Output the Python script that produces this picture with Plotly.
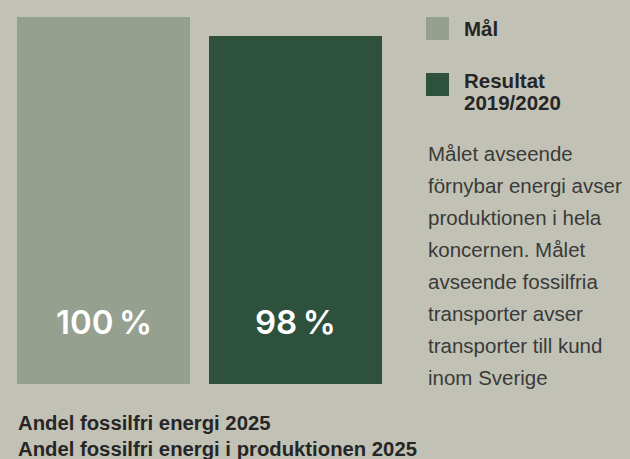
import plotly.graph_objects as go

W, H = 630, 459

categories = ["Mål", "Resultat 2019/2020"]
values = [100, 98]
legend_labels = [["Mål"], ["Resultat", "2019/2020"]]
description_lines = [
    "Målet avseende",
    "förnybar energi avser",
    "produktionen i hela",
    "koncernen. Målet",
    "avseende fossilfria",
    "transporter avser",
    "transporter till kund",
    "inom Sverige",
]
footer_lines = [
    "Andel fossilfri energi 2025",
    "Andel fossilfri energi i produktionen 2025",
]

BG = "#c1c2b5"
LIGHT = "#95a08f"
DARK = "#2d513c"
TXT = "#262626"
TXT2 = "#3a3a3a"
FONT = "Liberation Sans, Arial, sans-serif"
NUMFONT = "Inter, Liberation Sans, sans-serif"


def px(x):
    return x / W


def py(y):
    return 1 - y / H


fig = go.Figure()
fig.add_trace(go.Bar(
    x=categories, y=values,
    marker=dict(color=[LIGHT, DARK], line=dict(width=0)),
    hoverinfo="skip",
))

annotations = []
for c, v in zip(categories, values):
    annotations.append(dict(
        x=c, xref="x", y=py(322), yref="paper",
        text=f"{v}\u202f%", showarrow=False,
        font=dict(family=NUMFONT, size=33, color="white", weight=600),
        xanchor="center", yanchor="middle",
    ))

shapes = []
sq_y = [17, 73]
text_y = [[28], [80.5, 102]]
for i, (lines, col) in enumerate(zip(legend_labels, [LIGHT, DARK])):
    shapes.append(dict(type="rect", xref="paper", yref="paper",
                       x0=px(426), x1=px(449), y0=py(sq_y[i] + 23), y1=py(sq_y[i]),
                       fillcolor=col, line=dict(width=0)))
    for lab, ty in zip(lines, text_y[i]):
        annotations.append(dict(
            x=px(462), y=py(ty), xref="paper", yref="paper",
            text=lab, showarrow=False, align="left",
            font=dict(family=FONT, size=20.5, color=TXT, weight="bold"),
            xanchor="left", yanchor="middle",
        ))

for i, line in enumerate(description_lines):
    annotations.append(dict(
        x=px(426), y=py(153.5 + i * 32), xref="paper", yref="paper",
        text=line, showarrow=False, align="left",
        font=dict(family=FONT, size=20.5, color=TXT2),
        xanchor="left", yanchor="middle",
    ))

footer_y = [422.5, 448.5]
for line, fy in zip(footer_lines, footer_y):
    annotations.append(dict(
        x=px(16), y=py(fy), xref="paper", yref="paper",
        text=line, showarrow=False, align="left",
        font=dict(family=FONT, size=20.3, color=TXT, weight="bold"),
        xanchor="left", yanchor="middle",
    ))

fig.update_layout(
    width=W, height=H,
    margin=dict(l=0, r=0, t=0, b=0),
    paper_bgcolor=BG, plot_bgcolor=BG,
    showlegend=False,
    bargap=0.099,
    xaxis=dict(domain=[px(7.5), px(391.5)], visible=False, fixedrange=True),
    yaxis=dict(domain=[py(384), py(17)], range=[61.4, 100], visible=False, fixedrange=True),
    annotations=annotations,
    shapes=shapes,
)

fig.write_html(
    "out.html",
    config={"displayModeBar": False},
    post_script="document.body.style.margin='0';document.body.style.background='%s';" % BG,
)
